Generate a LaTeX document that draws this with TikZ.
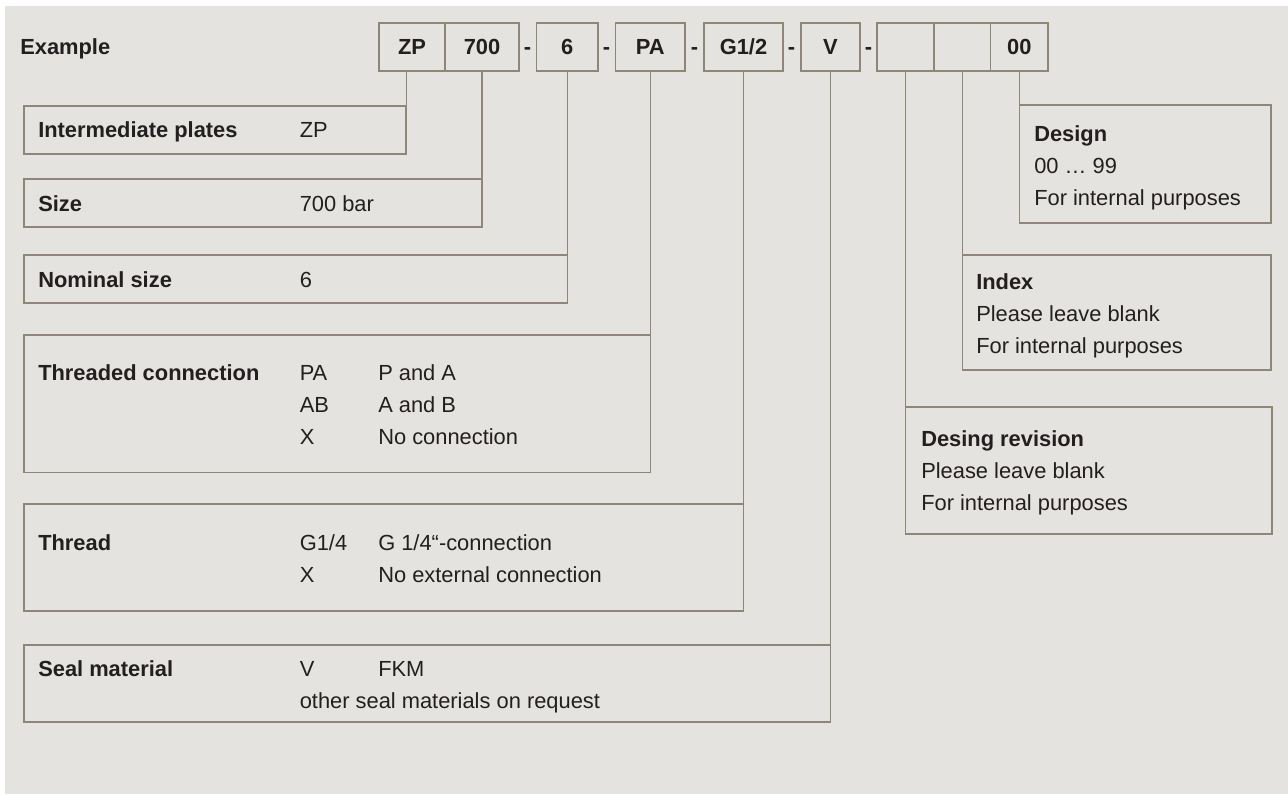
\documentclass[tikz,border=0pt]{standalone}
\usepackage{fontspec}
\setmainfont{Liberation Sans}
\usetikzlibrary{fit}
\definecolor{bgc}{HTML}{E5E3DF}
\definecolor{lnc}{HTML}{8E8677}
\definecolor{txc}{HTML}{231F20}
\newcommand\dfs{\fontsize{16.4pt}{20pt}\selectfont}
\begin{document}
\begin{tikzpicture}[x=0.75pt,y=-0.75pt,
  box/.style={draw=lnc, line width=1.1pt, inner sep=0pt},
  conn/.style={draw=lnc, line width=1.1pt},
  lbl/.style={inner sep=0pt, anchor=base west, font=\dfs, text=txc},
  blbl/.style={lbl, font=\bfseries\dfs},
  hdr/.style={inner sep=0pt, anchor=base, font=\bfseries\dfs, text=txc}]
\useasboundingbox (0,0) rectangle (1288,794);
\fill[white] (0,0) rectangle (1288,794);
\fill[bgc] (5,6) rectangle (1288,794);

% header
\node[blbl] (ex) at (20,54.5) {Example};
\node[box, fit={(379,23) (445,71)}] (tzp) {};
\node[box, fit={(445,23) (519,71)}] (t700) {};
\node[box, fit={(536.5,23) (598,71)}] (t6) {};
\node[box, fit={(615.5,23) (685,71)}] (tpa) {};
\node[box, fit={(704,23) (783,71)}] (tg) {};
\node[box, fit={(801,23) (860,71)}] (tv) {};
\node[box, fit={(877,23) (934,71)}] (tb1) {};
\node[box, fit={(934,23) (990.5,71)}] (tb2) {};
\node[box, fit={(990.5,23) (1048,71)}] (t00) {};
\node[hdr] (hzp) at (412,54.5) {ZP};
\node[hdr] (h700) at (482,54.5) {700};
\node[hdr] (d1) at (527.5,54.5) {-};
\node[hdr] (h6) at (567.25,54.5) {6};
\node[hdr] (d2) at (606.5,54.5) {-};
\node[hdr] (hpa) at (650.25,54.5) {PA};
\node[hdr] (d3) at (694.5,54.5) {-};
\node[hdr] (hg) at (743.5,54.5) {G1/2};
\node[hdr] (d4) at (791.5,54.5) {-};
\node[hdr] (hv) at (830.5,54.5) {V};
\node[hdr] (d5) at (868.5,54.5) {-};
\node[hdr] (h00) at (1019.25,54.5) {00};

% left boxes
\node[box, fit={(24,106) (406,154)}] (bip) {};
\node[blbl] (lip) at (38,137.5) {Intermediate plates};
\node[lbl] (vip) at (299.5,137.5) {ZP};

\node[box, fit={(24,179) (482,227)}] (bsz) {};
\node[blbl] (lsz) at (38,211.5) {Size};
\node[lbl] (vsz) at (299.5,211.5) {700 bar};

\node[box, fit={(24,255) (567.25,303)}] (bns) {};
\node[blbl] (lns) at (38,287.5) {Nominal size};
\node[lbl] (vns) at (299.5,287.5) {6};

\node[box, fit={(24,335) (650.25,472.5)}] (btc) {};
\node[blbl] (ltc) at (38,380) {Threaded connection};
\node[lbl] (tc1a) at (299.5,380) {PA};
\node[lbl] (tc1b) at (378,380) {P and A};
\node[lbl] (tc2a) at (299.5,412) {AB};
\node[lbl] (tc2b) at (378,412) {A and B};
\node[lbl] (tc3a) at (299.5,444) {X};
\node[lbl] (tc3b) at (378,444) {No connection};

\node[box, fit={(24,504) (743.5,611)}] (bth) {};
\node[blbl] (lth) at (38,550) {Thread};
\node[lbl] (th1a) at (299.5,550) {G1/4};
\node[lbl] (th1b) at (378,550) {G 1/4“-connection};
\node[lbl] (th2a) at (299.5,582) {X};
\node[lbl] (th2b) at (378,582) {No external connection};

\node[box, fit={(24,645) (830.5,722)}] (bsm) {};
\node[blbl] (lsm) at (38,676) {Seal material};
\node[lbl] (sm1a) at (299.5,676) {V};
\node[lbl] (sm1b) at (378,676) {FKM};
\node[lbl] (sm2) at (299.5,708) {other seal materials on request};

% right boxes
\node[box, fit={(1019.25,105) (1271,223)}] (bds) {};
\node[blbl] (lds) at (1034,141.5) {Design};
\node[lbl] (ds1) at (1034,173.5) {00 … 99};
\node[lbl] (ds2) at (1034,205.5) {For internal purposes};

\node[box, fit={(962.25,255) (1271,370)}] (bix) {};
\node[blbl] (lix) at (976,289) {Index};
\node[lbl] (ix1) at (976,321) {Please leave blank};
\node[lbl] (ix2) at (976,353) {For internal purposes};

\node[box, fit={(905.5,407) (1272,534)}] (bdr) {};
\node[blbl] (ldr) at (921,446.5) {Desing revision};
\node[lbl] (dr1) at (921,478.5) {Please leave blank};
\node[lbl] (dr2) at (921,510.5) {For internal purposes};

% connectors
\draw[conn] (bip.north east |- tzp.south) -- (bip.north east);
\draw[conn] (t700.south) -- (t700.south |- bsz.north);
\draw[conn] (t6.south) -- (t6.south |- bns.north);
\draw[conn] (tpa.south) -- (tpa.south |- btc.north);
\draw[conn] (tg.south) -- (tg.south |- bth.north);
\draw[conn] (tv.south) -- (tv.south |- bsm.north);
\draw[conn] (tb1.south) -- (tb1.south |- bdr.north);
\draw[conn] (tb2.south) -- (tb2.south |- bix.north);
\draw[conn] (t00.south) -- (t00.south |- bds.north);
\end{tikzpicture}
\end{document}
